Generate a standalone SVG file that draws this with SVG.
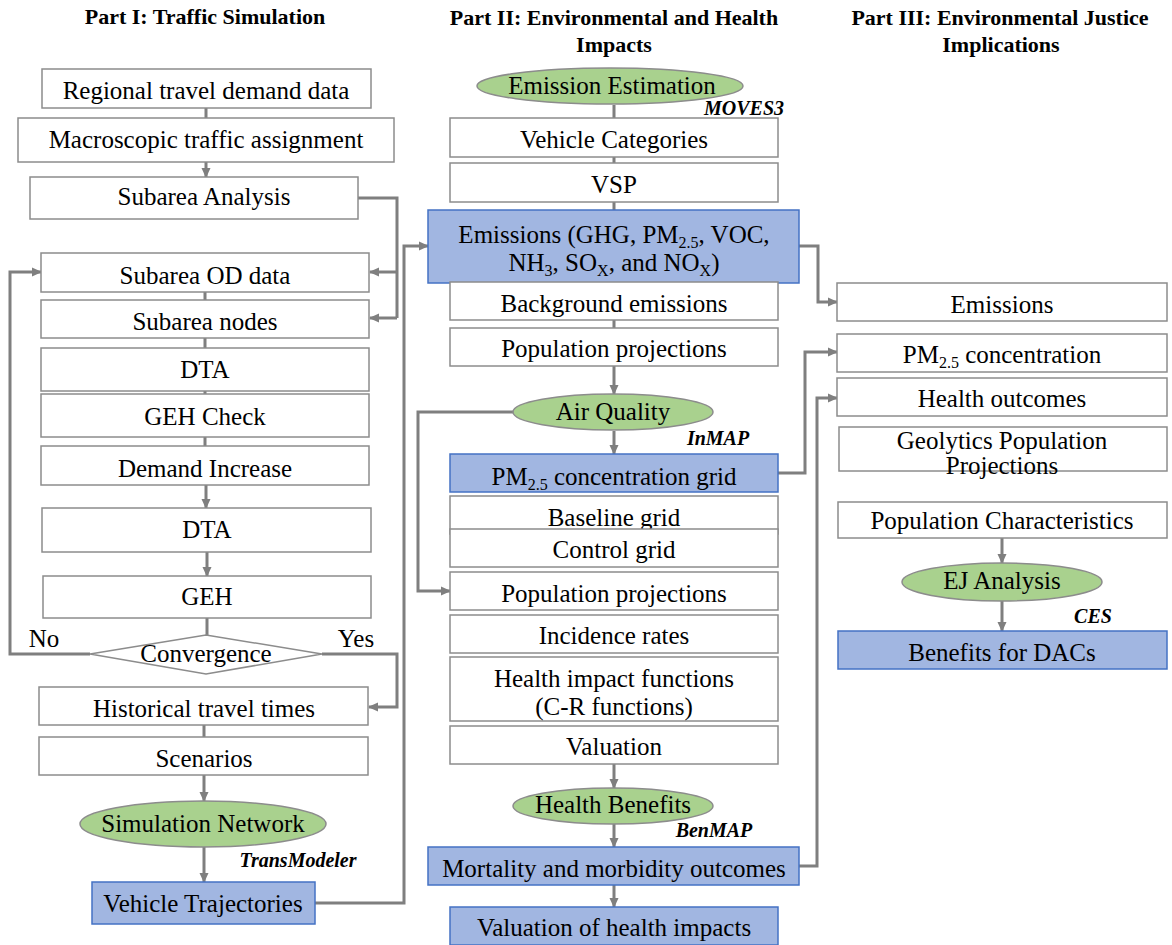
<svg xmlns="http://www.w3.org/2000/svg" width="1172" height="945" viewBox="0 0 1172 945">
<defs>
<style>
.lbl{font-family:'Liberation Serif',serif;font-size:25px;text-anchor:middle;fill:#000}
.hdr{font-family:'Liberation Serif',serif;font-size:22px;font-weight:bold;text-anchor:middle;fill:#000}
.tool{font-family:'Liberation Serif',serif;font-size:20px;font-weight:bold;font-style:italic;text-anchor:middle;fill:#000}
.sub{font-size:16px}
.box{fill:#fff;stroke:#8c8c8c;stroke-width:1.5}
.blue{fill:#a1b6e1;stroke:#4472c4;stroke-width:1.5}
.green{fill:#a9d18e;stroke:#8c8c8c;stroke-width:1.5}
.c{fill:none;stroke:#7f7f7f;stroke-width:3}
.a{marker-end:url(#ah)}
</style>
<marker id="ah" markerUnits="userSpaceOnUse" markerWidth="10" markerHeight="10" refX="9" refY="5" orient="auto">
<path d="M0,0.5 L10,5 L0,9.5 z" fill="#7f7f7f"/>
</marker>
</defs>
<rect width="1172" height="945" fill="#fff"/>

<g id="titles" font-family="Liberation Serif">
<text class="hdr" x="205" y="24">Part I: Traffic Simulation</text>
<text class="hdr" x="614" y="25">Part II: Environmental and Health</text>
<text class="hdr" x="614" y="52">Impacts</text>
<text class="hdr" x="1000" y="25">Part III: Environmental Justice</text>
<text class="hdr" x="1001" y="52">Implications</text>
</g>

<g id="connectors">
<path class="c" d="M206,108 V118"/>
<path class="c a" d="M206,162 V177"/>
<path class="c" d="M358,198 H397 V318"/>
<path class="c a" d="M397,272 H370"/>
<path class="c a" d="M397,318 H370"/>
<path class="c" d="M205,292 V300 M205,338 V348 M205,391 V394 M205,437 V446"/>
<path class="c a" d="M206,485 V508"/>
<path class="c a" d="M207,552 V576"/>
<path class="c" d="M207,618 V635"/>
<path class="c a" d="M90,654 H10 V272 H41"/>
<path class="c a" d="M322,654 H397 V707 H369"/>
<path class="c" d="M204,725 V737"/>
<path class="c a" d="M204,775 V801"/>
<path class="c a" d="M204,847 V882"/>
<path class="c a" d="M315,903 H404 V246 H428"/>
<path class="c" d="M614,105 V118 M614,157 V163 M614,202 V210 M614,320 V328"/>
<path class="c a" d="M614,366 V394"/>
<path class="c a" d="M614,431 V454"/>
<path class="c a" d="M514,412 H418 V591 H450"/>
<path class="c a" d="M614,764 V788"/>
<path class="c a" d="M614,824 V847"/>
<path class="c a" d="M614,885 V907"/>
<path class="c a" d="M799,246 H818 V302 H837"/>
<path class="c a" d="M778,473 H805 V352 H837"/>
<path class="c a" d="M799,866 H817 V398 H837"/>
<path class="c a" d="M1002,538 V563"/>
<path class="c a" d="M1002,601 V631"/>
</g>

<g font-family="Liberation Serif">
<g id="n-regional"><rect class="box" x="42" y="69" width="329" height="39"/><text class="lbl" x="206" y="99">Regional travel demand data</text></g>
<g id="n-macro"><rect class="box" x="18" y="118" width="376" height="44"/><text class="lbl" x="206" y="148">Macroscopic traffic assignment</text></g>
<g id="n-subarea"><rect class="box" x="30" y="177" width="328" height="42"/><text class="lbl" x="204" y="205">Subarea Analysis</text></g>
<g id="n-od"><rect class="box" x="41" y="253" width="328" height="39"/><text class="lbl" x="205" y="284">Subarea OD data</text></g>
<g id="n-nodes"><rect class="box" x="41" y="300" width="328" height="38"/><text class="lbl" x="205" y="330">Subarea nodes</text></g>
<g id="n-dta1"><rect class="box" x="41" y="348" width="328" height="43"/><text class="lbl" x="205" y="378">DTA</text></g>
<g id="n-gehcheck"><rect class="box" x="41" y="394" width="328" height="43"/><text class="lbl" x="205" y="425">GEH Check</text></g>
<g id="n-demand"><rect class="box" x="41" y="446" width="328" height="39"/><text class="lbl" x="205" y="477">Demand Increase</text></g>
<g id="n-dta2"><rect class="box" x="42" y="508" width="329" height="44"/><text class="lbl" x="207" y="538">DTA</text></g>
<g id="n-geh"><rect class="box" x="43" y="576" width="328" height="42"/><text class="lbl" x="207" y="605">GEH</text></g>
<g id="n-conv"><polygon class="box" points="90,654 206,635 322,654 206,674"/><text class="lbl" x="206" y="662">Convergence</text></g>
<text class="lbl" x="44" y="647">No</text>
<text class="lbl" x="356" y="647">Yes</text>
<g id="n-hist"><rect class="box" x="39" y="687" width="329" height="38"/><text class="lbl" x="204" y="717">Historical travel times</text></g>
<g id="n-scen"><rect class="box" x="39" y="737" width="329" height="38"/><text class="lbl" x="204" y="767">Scenarios</text></g>
<g id="n-simnet"><ellipse class="green" cx="203" cy="824" rx="123" ry="23"/><text class="lbl" x="203" y="832">Simulation Network</text></g>
<text class="tool" x="298" y="867">TransModeler</text>
<g id="n-vt"><rect class="blue" x="92" y="882" width="223" height="42"/><text class="lbl" x="203" y="912">Vehicle Trajectories</text></g>

<g id="n-emest"><ellipse class="green" cx="610" cy="86" rx="133" ry="18"/><text class="lbl" x="612" y="94">Emission Estimation</text></g>
<text class="tool" x="744" y="115">MOVES3</text>
<g id="n-vehcat"><rect class="box" x="450" y="118" width="328" height="39"/><text class="lbl" x="614" y="148">Vehicle Categories</text></g>
<g id="n-vsp"><rect class="box" x="450" y="163" width="328" height="39"/><text class="lbl" x="614" y="193">VSP</text></g>
<g id="n-emis"><rect class="blue" x="428" y="210" width="371" height="73"/>
<text class="lbl" x="614" y="243">Emissions (GHG, PM<tspan class="sub" dy="5">2.5</tspan><tspan dy="-5">, VOC,</tspan></text>
<text class="lbl" x="614" y="271">NH<tspan class="sub" dy="5">3</tspan><tspan dy="-5">, SO</tspan><tspan class="sub" dy="5">X</tspan><tspan dy="-5">, and NO</tspan><tspan class="sub" dy="5">X</tspan><tspan dy="-5">)</tspan></text></g>
<g id="n-bg"><rect class="box" x="450" y="282" width="328" height="38"/><text class="lbl" x="614" y="312">Background emissions</text></g>
<g id="n-pop1"><rect class="box" x="450" y="328" width="328" height="38"/><text class="lbl" x="614" y="357">Population projections</text></g>
<g id="n-aq"><ellipse class="green" cx="613" cy="412" rx="100" ry="18"/><text class="lbl" x="613" y="420">Air Quality</text></g>
<text class="tool" x="718" y="445">InMAP</text>
<g id="n-pmgrid"><rect class="blue" x="450" y="454" width="328" height="38"/><text class="lbl" x="614" y="485">PM<tspan class="sub" dy="5">2.5</tspan><tspan dy="-5"> concentration grid</tspan></text></g>
<g id="n-base"><rect class="box" x="450" y="496" width="328" height="38"/><text class="lbl" x="614" y="526">Baseline grid</text></g>
<g id="n-ctrl"><rect class="box" x="450" y="529" width="328" height="38"/><text class="lbl" x="614" y="558">Control grid</text></g>
<g id="n-pop2"><rect class="box" x="450" y="572" width="328" height="38"/><text class="lbl" x="614" y="602">Population projections</text></g>
<g id="n-inc"><rect class="box" x="450" y="615" width="328" height="38"/><text class="lbl" x="614" y="644">Incidence rates</text></g>
<g id="n-hif"><rect class="box" x="450" y="657" width="328" height="64"/><text class="lbl" x="614" y="687">Health impact functions</text><text class="lbl" x="614" y="715">(C-R functions)</text></g>
<g id="n-val"><rect class="box" x="450" y="726" width="328" height="38"/><text class="lbl" x="614" y="755">Valuation</text></g>
<g id="n-hb"><ellipse class="green" cx="613" cy="806" rx="100" ry="18"/><text class="lbl" x="613" y="813">Health Benefits</text></g>
<text class="tool" x="714" y="837">BenMAP</text>
<g id="n-mort"><rect class="blue" x="428" y="847" width="371" height="38"/><text class="lbl" x="614" y="877">Mortality and morbidity outcomes</text></g>
<g id="n-valhi"><rect class="blue" x="450" y="907" width="328" height="38"/><text class="lbl" x="614" y="936">Valuation of health impacts</text></g>

<g id="n-emis3"><rect class="box" x="837" y="283" width="330" height="38"/><text class="lbl" x="1002" y="313">Emissions</text></g>
<g id="n-pm3"><rect class="box" x="837" y="334" width="330" height="38"/><text class="lbl" x="1002" y="363">PM<tspan class="sub" dy="5">2.5</tspan><tspan dy="-5"> concentration</tspan></text></g>
<g id="n-health3"><rect class="box" x="837" y="378" width="330" height="38"/><text class="lbl" x="1002" y="407">Health outcomes</text></g>
<g id="n-geo"><rect class="box" x="839" y="427" width="328" height="44"/><text class="lbl" x="1002" y="449">Geolytics Population</text><text class="lbl" x="1002" y="474">Projections</text></g>
<g id="n-popchar"><rect class="box" x="838" y="502" width="329" height="36"/><text class="lbl" x="1002" y="529">Population Characteristics</text></g>
<g id="n-ej"><ellipse class="green" cx="1002" cy="582" rx="100" ry="19"/><text class="lbl" x="1002" y="589">EJ Analysis</text></g>
<text class="tool" x="1093" y="623">CES</text>
<g id="n-dacs"><rect class="blue" x="838" y="631" width="329" height="38"/><text class="lbl" x="1002" y="661">Benefits for DACs</text></g>
</g>
</svg>
